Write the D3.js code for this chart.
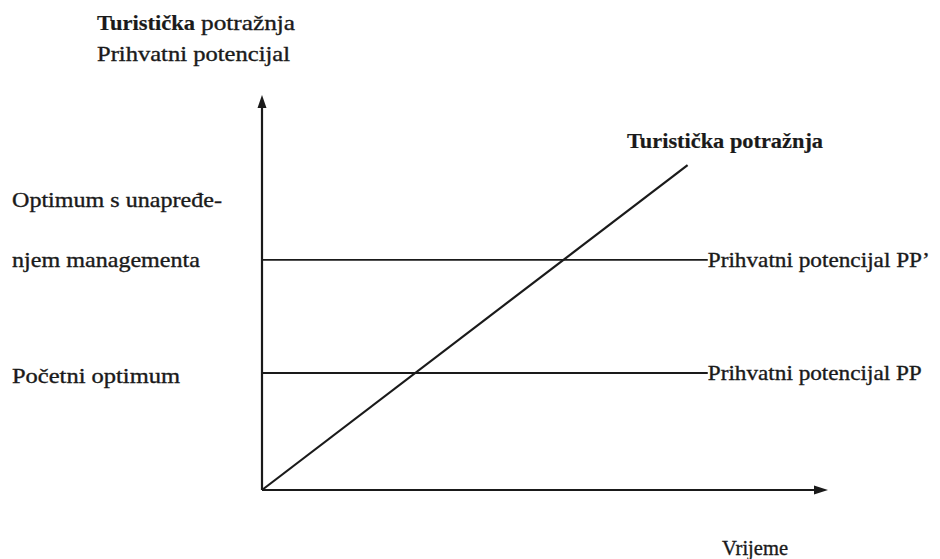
<!DOCTYPE html>
<html>
<head>
<meta charset="utf-8">
<script src="https://cdn.jsdelivr.net/npm/d3@7"></script>
<style>
  html, body { margin: 0; padding: 0; background: #fff; }
  svg { display: block; }
  text { font-family: "Liberation Serif", "DejaVu Serif", serif; fill: #1a1a1a; stroke: #1a1a1a; stroke-width: 0.35px; }
</style>
</head>
<body>
<svg id="chart" width="940" height="559"></svg>
<script>
// ---- data ----
const demandTime = [0, 7.6];          // Vrijeme
const demandValue = [0, 8.33];        // Turistička potražnja
const capacityNames = ["Prihvatni potencijal PP", "Prihvatni potencijal PP’"];
const capacityValues = [3.0, 5.9];
const capacityEnd = 7.96;
const capacityLeftLabels = [["Početni optimum"], ["Optimum s unapređe-", "njem managementa"]];
const yTitle = ["Turistička", "potražnja", "Prihvatni potencijal"];
const xTitle = "Vrijeme";
const demandLabel = "Turistička potražnja";

// ---- layout ----
const svg = d3.select("#chart");
const x = d3.scaleLinear().domain([0, 10]).range([262, 822]);
const y = d3.scaleLinear().domain([0, 10]).range([490, 100]);
const ink = "#1a1a1a";

// axes
svg.append("line").attr("x1", x(0)).attr("y1", y(0)).attr("x2", x(0)).attr("y2", y(10) + 6)
  .attr("stroke", ink).attr("stroke-width", 2.2);
svg.append("line").attr("x1", x(0)).attr("y1", y(0)).attr("x2", x(10) - 6).attr("y2", y(0))
  .attr("stroke", ink).attr("stroke-width", 2.2);
// arrowheads
svg.append("path").attr("d", `M${x(0)},${y(10) - 5} L${x(0) - 4.5},${y(10) + 8} L${x(0) + 4.5},${y(10) + 8} Z`).attr("fill", ink);
svg.append("path").attr("d", `M${x(10) + 6},${y(0)} L${x(10) - 8},${y(0) - 4.5} L${x(10) - 8},${y(0) + 4.5} Z`).attr("fill", ink);

// capacity lines
svg.selectAll(".cap").data(capacityValues).enter().append("line")
  .attr("x1", x(0)).attr("x2", x(capacityEnd))
  .attr("y1", d => y(d)).attr("y2", d => y(d))
  .attr("stroke", ink).attr("stroke-width", 1.8);

// demand line
const line = d3.line().x(d => x(d[0])).y(d => y(d[1]));
svg.append("path").datum(d3.zip(demandTime, demandValue)).attr("d", line)
  .attr("fill", "none").attr("stroke", ink).attr("stroke-width", 2.2);

// text helper
function label(txt, xx, yy, size, weight, width) {
  const t = svg.append("text").attr("x", xx).attr("y", yy)
    .attr("font-size", size).attr("font-weight", weight || "normal").text(txt);
  if (weight === "bold") t.style("stroke-width", "0.2px");
  if (width) t.attr("textLength", width).attr("lengthAdjust", "spacingAndGlyphs");
  return t;
}

const fs = 21;
// y-axis title
label(yTitle[0], 97, 30, fs, "bold", 98);
label(yTitle[1], 201, 30, fs, "normal", 94);
label(yTitle[2], 97, 61, fs, "normal", 193);

// capacity labels right
const capTextW = [214, 222];
capacityNames.forEach((n, i) => label(n, x(capacityEnd), y(capacityValues[i]) + 7, fs, "normal", capTextW[i]));

// left labels
label(capacityLeftLabels[0][0], 12, y(capacityValues[0]) + 10, fs, "normal", 168);
label(capacityLeftLabels[1][0], 12, 207, fs, "normal", 210);
label(capacityLeftLabels[1][1], 12, y(capacityValues[1]) + 7, fs, "normal", 188);

// demand label
label(demandLabel, 627, 148, fs, "bold", 196);

// x title
label(xTitle, 722, 555, fs, "normal", 66);
</script>
</body>
</html>
